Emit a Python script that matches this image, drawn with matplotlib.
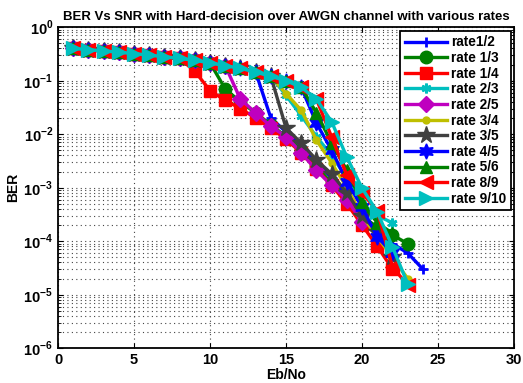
import numpy as np
import matplotlib
matplotlib.use("Agg")
import matplotlib.pyplot as plt

plt.rcParams['font.family'] = ['Liberation Sans', 'DejaVu Sans']
plt.rcParams['font.weight'] = 'bold'
plt.rcParams['mathtext.fontset'] = 'custom'
plt.rcParams['mathtext.rm'] = 'Liberation Sans:bold'
plt.rcParams['mathtext.bf'] = 'Liberation Sans:bold'

# BER values, Eb/No starts at 1 dB in 1 dB steps
ber_1_2 = [0.40, 0.38, 0.36, 0.34, 0.32, 0.30, 0.28, 0.26, 0.24, 0.215, 0.19, 0.17, 0.145,
           0.02, 0.011, 0.006, 0.003, 0.0015, 7e-4, 3e-4, 1.2e-4, 9e-5, 6e-5, 3e-5]
ber_1_3 = [0.40, 0.38, 0.36, 0.34, 0.32, 0.30, 0.28, 0.26, 0.24, 0.215,
           0.07, 0.04, 0.025, 0.015, 0.009, 0.005, 0.0025, 0.0012, 6e-4, 3e-4, 1.8e-4, 1.3e-4, 9e-5]
ber_1_4 = [0.40, 0.38, 0.36, 0.34, 0.32, 0.30, 0.28, 0.26,
           0.15, 0.065, 0.043, 0.03, 0.02, 0.013, 0.008, 0.0045, 0.0022, 0.0011, 5e-4, 2e-4, 8e-5, 3e-5]
ber_2_3 = [0.40, 0.38, 0.36, 0.34, 0.32, 0.30, 0.28, 0.26, 0.24, 0.215, 0.19, 0.17, 0.145, 0.12,
           0.053, 0.022, 0.009, 0.004, 0.0015, 5e-4, 3e-4, 2.2e-4]
ber_2_5 = [0.40, 0.38, 0.36, 0.34, 0.32, 0.30, 0.28, 0.26, 0.24, 0.215, 0.19,
           0.045, 0.025, 0.014, 0.009, 0.0045, 0.0021, 0.0011, 6e-4, 2.3e-4]
ber_3_4 = [0.40, 0.38, 0.36, 0.34, 0.32, 0.30, 0.28, 0.26, 0.24, 0.215, 0.19, 0.17, 0.145, 0.12,
           0.057, 0.028, 0.0077, 0.0029, 0.001, 3e-4, 1.2e-4, 5e-5, 2e-5]
ber_3_5 = [0.40, 0.38, 0.36, 0.34, 0.32, 0.30, 0.28, 0.26, 0.24, 0.215, 0.19, 0.17, 0.145, 0.12,
           0.013, 0.0068, 0.0033, 0.0018, 8e-4, 3e-4, 1.5e-4, 5e-5]
ber_4_5 = [0.40, 0.38, 0.36, 0.34, 0.32, 0.30, 0.28, 0.26, 0.24, 0.215, 0.19, 0.17, 0.145, 0.12, 0.10, 0.075,
           0.016, 0.005, 0.0013, 4.3e-4, 1.2e-4, 6e-5]
ber_5_6 = [0.40, 0.38, 0.36, 0.34, 0.32, 0.30, 0.28, 0.26, 0.24, 0.215, 0.19, 0.17, 0.145, 0.12, 0.10, 0.075,
           0.025, 0.0068, 0.0021, 5.3e-4, 2.2e-4, 1.4e-4]
ber_8_9 = [0.40, 0.38, 0.36, 0.34, 0.32, 0.30, 0.28, 0.26, 0.24, 0.215, 0.19, 0.17, 0.145, 0.12, 0.10, 0.075, 0.045,
           0.0088, 0.0017, 8e-4, 3.7e-4, 3.3e-5, 1.5e-5]
ber_9_10 = [0.40, 0.38, 0.36, 0.34, 0.32, 0.30, 0.28, 0.26, 0.24, 0.215, 0.19, 0.17, 0.145, 0.12, 0.10, 0.075, 0.045,
            0.017, 0.0037, 9.8e-4, 3.5e-4, 7.8e-5, 1.6e-5]

labels = ['rate1/2', 'rate 1/3', 'rate 1/4', 'rate 2/3', 'rate 2/5', 'rate 3/4',
          'rate 3/5', 'rate 4/5', 'rate 5/6', 'rate 8/9', 'rate 9/10']
series = [ber_1_2, ber_1_3, ber_1_4, ber_2_3, ber_2_5, ber_3_4,
          ber_3_5, ber_4_5, ber_5_6, ber_8_9, ber_9_10]
colors = ['#0000ff', '#008000', '#ff0000', '#00bfbf', '#bf00bf', '#bfbf00',
          '#404040', '#0000ff', '#008000', '#ff0000', '#00bfbf']
# matlab-ish markers: + o s * d . p h ^ < >
markers = ['+', 'o', 's', (6, 2, 0), 'D', 'o', '*', (6, 1, 0), '^', '<', '>']
msizes = [7, 9, 9, 7, 8, 5, 13, 11, 9, 10, 10]

fig = plt.figure(figsize=(5.23, 3.83), dpi=100)
ax = fig.add_axes([0.111, 0.091, 0.872, 0.838])

for ber, lab, c, m, ms in zip(series, labels, colors, markers, msizes):
    x = np.arange(1, len(ber) + 1)
    ax.semilogy(x, ber, color=c, marker=m, markersize=ms, linewidth=2.4,
                markeredgewidth=2 if m in ('+', (6, 2, 0)) else 1, label=lab)

ax.set_xlim(0, 30)
ax.set_ylim(1e-6, 1)
ax.set_xticks([0, 5, 10, 15, 20, 25, 30])
ax.set_yticks([10.0**k for k in range(-6, 1)])
ax.set_yticklabels(['$10^{%d}$' % k for k in range(-6, 1)])
ax.grid(True, which='major', linestyle=(0, (1, 3)), color='#444444', linewidth=0.8)
ax.grid(True, which='minor', axis='y', linestyle=(0, (1, 3)), color='#444444', linewidth=0.8)
ax.tick_params(which='both', direction='in', top=True, right=True, labelsize=10.5)
ax.tick_params(which='minor', length=2)
for s in ax.spines.values():
    s.set_linewidth(1.3)

ax.set_xlabel('Eb/No', fontsize=10, fontweight='bold', labelpad=1)
ax.set_ylabel('BER', fontsize=10, fontweight='bold', labelpad=2)
ax.set_title('BER Vs SNR with Hard-decision over AWGN channel with various rates',
             fontsize=9.5, fontweight='bold', pad=5)

leg = ax.legend(loc='upper right', fontsize=9.8, handlelength=3.1, borderaxespad=0.25,
                labelspacing=0.12, handletextpad=0.3, borderpad=0.35, fancybox=False,
                framealpha=1, edgecolor='black')
leg.get_frame().set_linewidth(1.3)

fig.savefig('out.png', dpi=100)
